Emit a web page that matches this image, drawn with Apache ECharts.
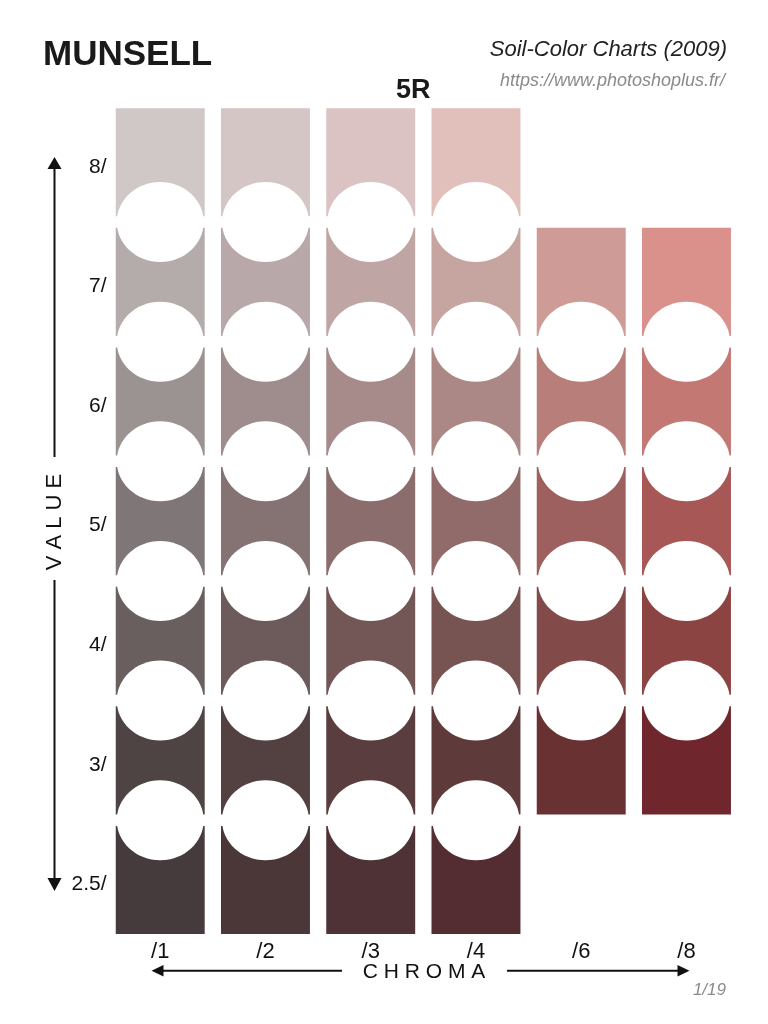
<!DOCTYPE html>
<html>
<head>
<meta charset="utf-8">
<script src="https://cdn.jsdelivr.net/npm/echarts@6/dist/echarts.min.js"></script>
<style>
  html, body { margin: 0; padding: 0; background: #fff; }
  #main { width: 768px; height: 1024px; }
</style>
</head>
<body>
<div id="main"></div>
<script>
// Munsell 5R page: chroma columns, value rows, chip colours
const chromaLabels = ['/1', '/2', '/3', '/4', '/6', '/8'];
const valueLabels = ['8/', '7/', '6/', '5/', '4/', '3/', '2.5/'];

// one list per chroma column, top (8/) to bottom (2.5/); null = no chip
const chroma1 = ['#cfc8c7', '#b4acab', '#9b9392', '#7f7677', '#685f5e', '#4d4443', '#453b3c'];
const chroma2 = ['#d3c6c5', '#b8a8a9', '#9f8d8e', '#857272', '#6d5b5b', '#534041', '#4b3738'];
const chroma3 = ['#dbc3c3', '#bfa6a5', '#a78a8a', '#8b6d6e', '#735656', '#5a3d3e', '#4f3235'];
const chroma4 = ['#e1bfba', '#c6a4a0', '#ab8886', '#916b69', '#775352', '#5e3a3a', '#532d31'];
const chroma6 = [null, '#cf9b96', '#b87e79', '#9e605e', '#824b49', '#6a3133', null];
const chroma8 = [null, '#da918b', '#c47874', '#a75755', '#8c4443', '#70262d', null];

const columns = [chroma1, chroma2, chroma3, chroma4, chroma6, chroma8];

var chips = [];
var holes = [];
columns.forEach(function (col, ci) {
  col.forEach(function (c, vi) {
    if (c) {
      chips.push([ci, vi, c]);
      // hole sits between this chip and the one below it
      if (col[vi + 1]) holes.push([ci, vi]);
    }
  });
});

const FONT = 'Liberation Sans, Arial, sans-serif';

var chart = echarts.init(document.getElementById('main'));

var option = {
  backgroundColor: '#ffffff',
  animation: false,
  grid: { left: 107.6, right: 28.9, top: 102.5, bottom: 84.2 },
  xAxis: {
    type: 'category',
    data: chromaLabels,
    axisLine: { show: false },
    axisTick: { show: false },
    splitLine: { show: false },
    axisLabel: { fontSize: 22, color: '#111', fontFamily: FONT, margin: 1 }
  },
  yAxis: {
    type: 'category',
    data: valueLabels,
    inverse: true,
    axisLine: { show: false },
    axisTick: { show: false },
    splitLine: { show: false },
    axisLabel: {
      margin: 1,
      formatter: function (v) { return '{v|' + v + '}'; },
      rich: { v: { fontSize: 21, color: '#111', fontFamily: FONT, padding: [9, 0, 0, 0] } }
    }
  },
  series: [
    {
      type: 'custom',
      data: chips,
      encode: { x: 0, y: 1 },
      renderItem: function (params, api) {
        var p = api.coord([api.value(0), api.value(1)]);
        var s = api.size([1, 1]);
        var w = s[0] - 16.3, h = s[1] - 11.5;
        return {
          type: 'rect',
          shape: { x: p[0] - w / 2, y: p[1] - h / 2, width: w, height: h },
          style: { fill: chips[params.dataIndex][2] }
        };
      }
    },
    {
      type: 'custom',
      data: holes,
      encode: { x: 0, y: 1 },
      z: 3,
      renderItem: function (params, api) {
        var p = api.coord([api.value(0), api.value(1)]);
        var s = api.size([1, 1]);
        return {
          type: 'ellipse',
          shape: { cx: p[0], cy: p[1] + s[1] / 2, rx: 43.5, ry: 40 },
          style: { fill: '#ffffff' }
        };
      }
    }
  ],
  graphic: [
    { type: 'text', left: 43, top: 38, style: { text: 'MUNSELL', font: 'bold 35px ' + FONT, fill: '#1a1a1a' } },
    { type: 'text', right: 41, top: 39, style: { text: 'Soil-Color Charts (2009)', font: 'italic 22px ' + FONT, fill: '#222' } },
    { type: 'text', right: 43, top: 72, style: { text: 'https://www.photoshoplus.fr/', font: 'italic 18px ' + FONT, fill: '#8a8a8a' } },
    { type: 'text', left: 396, top: 77, style: { text: '5R', font: 'bold 27px ' + FONT, fill: '#1a1a1a' } },
    { type: 'text', right: 42, top: 982, style: { text: '1/19', font: 'italic 17px ' + FONT, fill: '#8a8a8a' } },

    // VALUE arrow
    { type: 'line', shape: { x1: 54.5, y1: 168, x2: 54.5, y2: 457 }, style: { stroke: '#111', lineWidth: 2 } },
    { type: 'line', shape: { x1: 54.5, y1: 580, x2: 54.5, y2: 880 }, style: { stroke: '#111', lineWidth: 2 } },
    { type: 'polygon', shape: { points: [[54.5, 157], [47.5, 169], [61.5, 169]] }, style: { fill: '#111' } },
    { type: 'polygon', shape: { points: [[54.5, 891], [47.5, 878], [61.5, 878]] }, style: { fill: '#111' } },
    {
      type: 'text', x: 55, y: 522, rotation: Math.PI / 2,
      style: { text: 'V A L U E', font: '22px ' + FONT, fill: '#111', align: 'center', verticalAlign: 'middle' }
    },

    // CHROMA arrow
    { type: 'line', shape: { x1: 162, y1: 970.7, x2: 342, y2: 970.7 }, style: { stroke: '#111', lineWidth: 2 } },
    { type: 'line', shape: { x1: 507, y1: 970.7, x2: 679, y2: 970.7 }, style: { stroke: '#111', lineWidth: 2 } },
    { type: 'polygon', shape: { points: [[151.5, 970.7], [163.5, 965], [163.5, 976.5]] }, style: { fill: '#111' } },
    { type: 'polygon', shape: { points: [[689.5, 970.7], [677.5, 965], [677.5, 976.5]] }, style: { fill: '#111' } },
    {
      type: 'text', x: 424, y: 972,
      style: { text: 'C H R O M A', font: '21px ' + FONT, fill: '#111', align: 'center', verticalAlign: 'middle' }
    }
  ]
};

chart.setOption(option);
</script>
</body>
</html>
